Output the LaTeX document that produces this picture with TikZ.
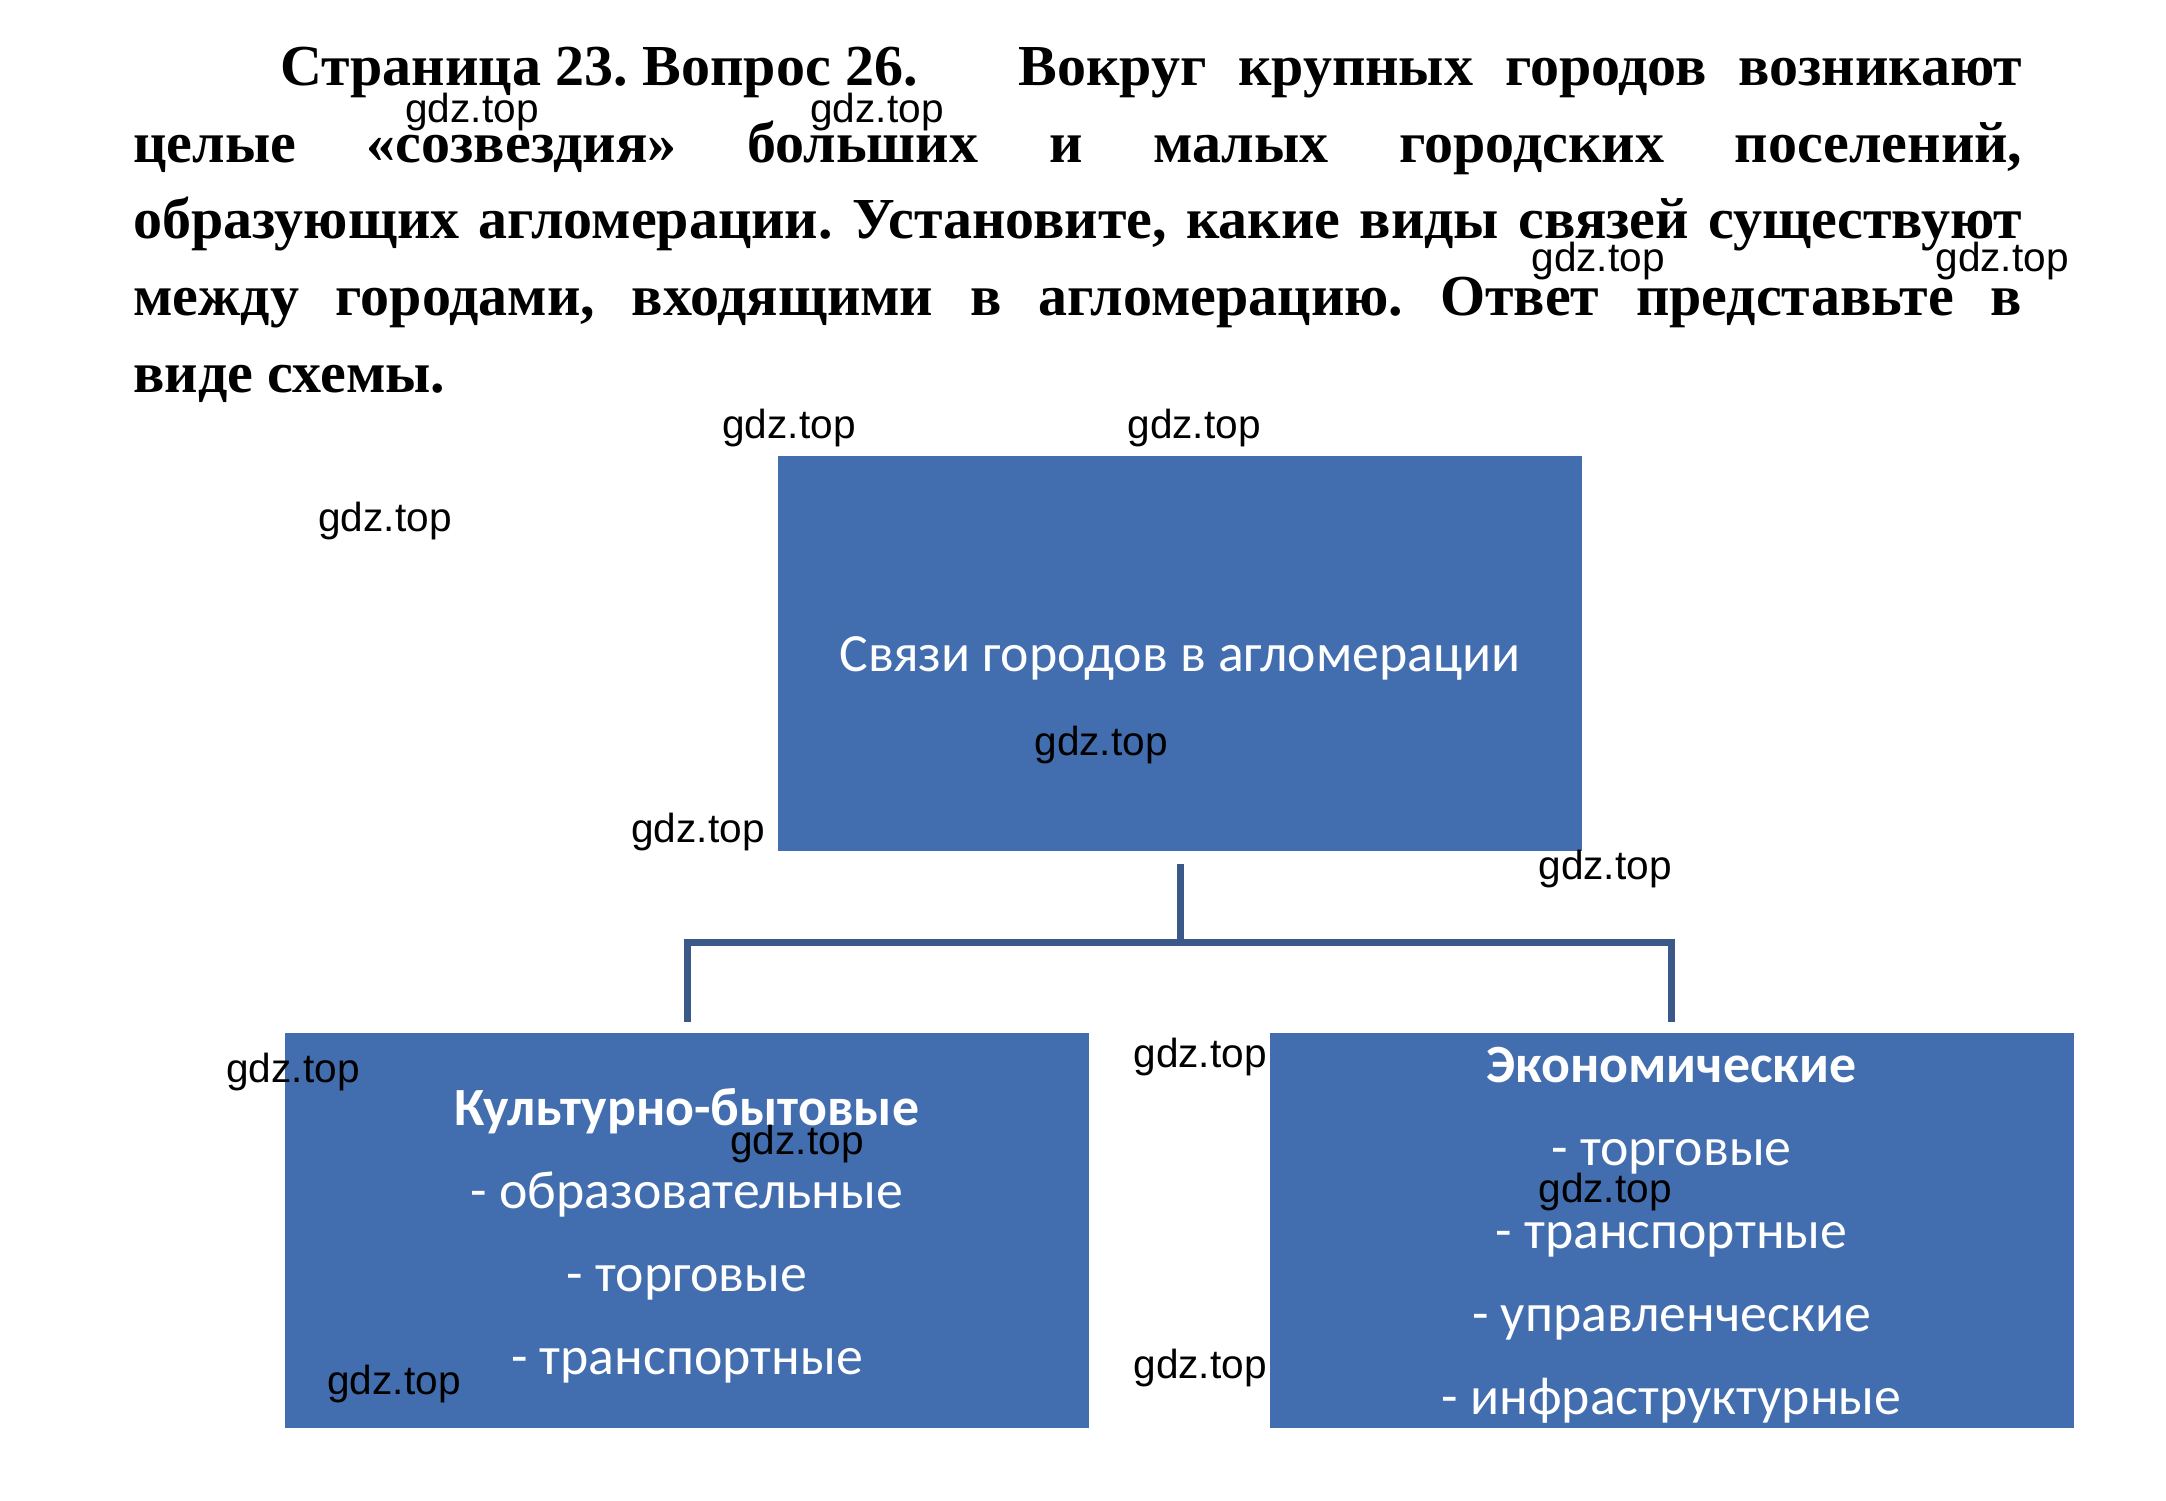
\documentclass[tikz,border=0pt]{standalone}
\usepackage{fontspec}
\setmainfont{Liberation Serif}
\newfontfamily\boxfont{Carlito}
\newfontfamily\wmfont{Liberation Sans}
\definecolor{boxblue}{RGB}{66,110,175}
\definecolor{linkblue}{RGB}{58,88,136}
\frenchspacing
\begin{document}
\begin{tikzpicture}[x=0.5pt,y=-0.5pt,
  hdr/.style={inner sep=0pt,anchor=base west,font=\fontsize{29pt}{38pt}\selectfont\bfseries},
  bluebox/.style={fill=boxblue,draw=none,minimum width=402pt,minimum height=197.5pt,inner sep=0pt},
  boxtext/.style={text=white,align=center,inner sep=0pt,font=\boxfont\fontsize{26.9pt}{41.5pt}\selectfont},
  link/.style={draw=linkblue,line width=3.5pt},
  wm/.style={inner sep=0pt,font=\wmfont\fontsize{20.3pt}{20pt}\selectfont,text=black}]
\useasboundingbox (0,0) rectangle (2166,1500);
\fill[white] (0,0) rectangle (2166,1500);
% header
\node[hdr] (h1a) at (280,85) {Страница 23. Вопрос 26.};
\node[hdr] (h1b) at (1018,85) {\hbox to 502pt{Вокруг крупных городов возникают}};
\node[hdr] (h2) at (133,162) {\hbox to 944.5pt{целые «созвездия» больших и малых городских поселений,}};
\node[hdr] (h3) at (133,238.5) {\hbox to 944.5pt{образующих агломерации. Установите, какие виды связей существуют}};
\node[hdr] (h4) at (133,315) {\hbox to 944.5pt{между городами, входящими в агломерацию. Ответ представьте в}};
\node[hdr] (h5) at (133,392) {виде схемы.};
% boxes
\node[bluebox] (top) at (1180,653) {};
\node[bluebox] (kb) at (687,1230.5) {};
\node[bluebox] (eb) at (1671.5,1230.5) {};
\node[boxtext] (toptxt) at ([yshift=-2.5pt]top.center) {Связи городов в агломерации};
\node[boxtext] (kbtxt) at ([yshift=-2.5pt]kb.center) {\textbf{Культурно-бытовые}\\- образовательные\\- торговые\\- транспортные};
\node[boxtext] (ebtxt) at ([yshift=-2.5pt]eb.center) {\textbf{Экономические}\\- торговые\\- транспортные\\- управленческие\\- инфраструктурные};
% connectors
\coordinate (jn) at (1180,942);
\draw[link] ([yshift=-6.5pt]top.south) -- (top.south |- jn);
\draw[link] ([yshift=5.5pt]kb.north) -- (kb.north |- jn) -- (eb.north |- jn) -- ([yshift=5.5pt]eb.north);
% watermarks
\node[wm] (w1) at (472,112) {gdz.top};
\node[wm] (w2) at (877,112) {gdz.top};
\node[wm] (w3) at (1598,261) {gdz.top};
\node[wm] (w4) at (2002,261) {gdz.top};
\node[wm] (w5) at (789,428) {gdz.top};
\node[wm] (w6) at (1194,428) {gdz.top};
\node[wm] (w7) at (385,521) {gdz.top};
\node[wm] (w8) at (1101,745) {gdz.top};
\node[wm] (w9) at (698,832) {gdz.top};
\node[wm] (w10) at (1605,869) {gdz.top};
\node[wm] (w11) at (293,1072) {gdz.top};
\node[wm] (w12) at (1200,1057) {gdz.top};
\node[wm] (w13) at (797,1144) {gdz.top};
\node[wm] (w14) at (1605,1192) {gdz.top};
\node[wm] (w15) at (394,1384) {gdz.top};
\node[wm] (w16) at (1200,1368) {gdz.top};
\end{tikzpicture}
\end{document}
